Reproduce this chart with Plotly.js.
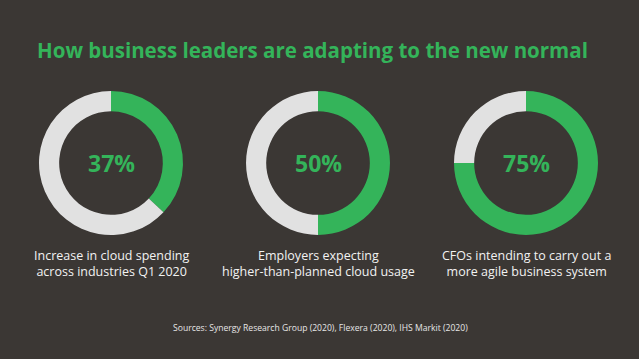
<!DOCTYPE html>
<html><head><meta charset="utf-8">
<script src="https://cdn.plot.ly/plotly-3.0.1.min.js"></script>
<style>html,body{margin:0;padding:0;background:#3b3734;}#c{width:639px;height:359px;}</style>
</head><body><div id="c"></div>
<script>
const chartTitle = "How business leaders are adapting to the new normal";
const descriptions = ["Increase in cloud spending<br>across industries Q1 2020", "Employers expecting<br>higher-than-planned cloud usage", "CFOs intending to carry out a<br>more agile business system"];
const percentages = [37, 50, 75];
const sourceText = "Sources: Synergy Research Group (2020), Flexera (2020), IHS Markit (2020)";

const W = 639, H = 359;
const centersX = [111, 318, 526];
const cy = 163, R = 72;
const green = "#34b45a", grey = "#e1e1e1", bg = "#3b3734";

const traces = percentages.map((p, i) => ({
  type: "pie",
  values: [p, 100 - p],
  labels: ["yes", "no"],
  marker: {colors: [green, grey], line: {width: 0}},
  hole: 0.72,
  sort: false,
  direction: "clockwise",
  rotation: 0,
  textinfo: "none",
  hoverinfo: "none",
  showlegend: false,
  domain: {x: [(centersX[i] - R) / W, (centersX[i] + R) / W], y: [1 - (cy + R) / H, 1 - (cy - R) / H]}
}));

function a(text, px, py, size, color) {
  return {text: text, x: px / W, y: 1 - py / H, xref: "paper", yref: "paper", showarrow: false,
    xanchor: "center", yanchor: "middle", font: {family: "Open Sans", size: size, color: color}};
}
const ann = [];
ann.push(a("<b>" + chartTitle + "</b>", 312, 50, 20.5, green));
percentages.forEach((p, i) => {
  ann.push(a("<b>" + p + "%</b>", centersX[i], 163, 23, green));
  ann.push(a(descriptions[i], centersX[i], 263, 12.5, "#f2f2f2"));
});
ann.push(a(sourceText, 320, 328, 8.6, "#e6e6e6"));

Plotly.newPlot("c", traces, {
  width: W, height: H, margin: {l: 0, r: 0, t: 0, b: 0},
  paper_bgcolor: bg, plot_bgcolor: bg,
  annotations: ann
}, {displayModeBar: false, staticPlot: true});
</script></body></html>
